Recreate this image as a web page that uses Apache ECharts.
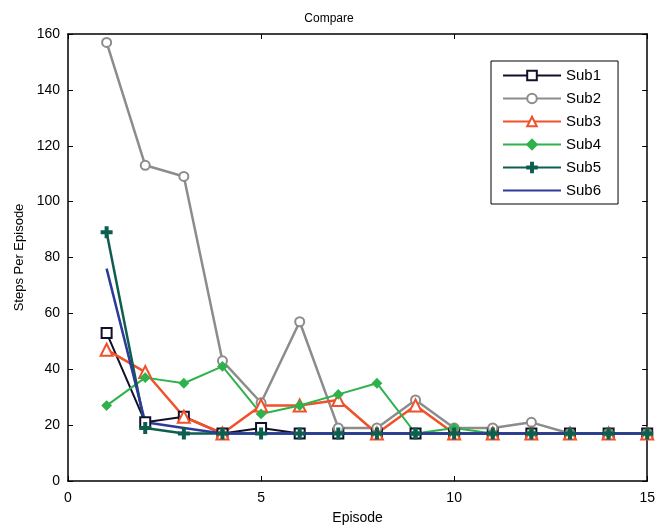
<!DOCTYPE html>
<html>
<head>
<meta charset="utf-8">
<script src="https://cdn.jsdelivr.net/npm/echarts@6/dist/echarts.min.js"></script>
<style>
html, body { margin: 0; padding: 0; background: #fff; }
#chart { width: 658px; height: 530px; }
</style>
</head>
<body>
<div id="chart"></div>
<script>
const episodes = [1, 2, 3, 4, 5, 6, 7, 8, 9, 10, 11, 12, 13, 14, 15]
const sub1 = [53, 21, 23, 17, 19, 17, 17, 17, 17, 17, 17, 17, 17, 17, 17]
const sub2 = [157, 113, 109, 43, 28, 57, 19, 19, 29, 19, 19, 21, 17, 17, 17]
const sub3 = [47, 39, 23, 17, 27, 27, 29, 17, 27, 17, 17, 17, 17, 17, 17]
const sub4 = [27, 37, 35, 41, 24, 27, 31, 35, 17, 19, 17, 17, 17, 17, 17]
const sub5 = [89, 19, 17, 17, 17, 17, 17, 17, 17, 17, 17, 17, 17, 17, 17]
const sub6 = [76, 21, 19, 17, 17, 17, 17, 17, 17, 17, 17, 17, 17, 17, 17]
const xTicks = [0, 5, 10, 15]
const yTicks = [0, 20, 40, 60, 80, 100, 120, 140, 160]

const pairs = (vals) => episodes.map((x, i) => [x, vals[i]])
// plus sign marker for Sub5
const plusPath = 'path://M4,0 L6,0 L6,4 L10,4 L10,6 L6,6 L6,10 L4,10 L4,6 L0,6 L0,4 L4,4 Z'

const chart = echarts.init(document.getElementById('chart'))

const mkLine = (name, vals, color, symbol, size, width, fill) => ({
	name: name,
	type: 'line',
	data: pairs(vals),
	symbol: symbol,
	symbolSize: size,
	showSymbol: size > 0,
	lineStyle: { color: color, width: width },
	itemStyle: { color: fill, borderColor: color, borderWidth: 2 },
	emphasis: { disabled: true },
	animation: false,
})

const axisCommon = {
	axisLine: { show: true, onZero: false, lineStyle: { color: '#000', width: 1.5 } },
	axisTick: { show: true, inside: true, length: 5, lineStyle: { color: '#000' } },
	splitLine: { show: false },
}

chart.setOption({
	backgroundColor: '#fff',
	title: {
		text: 'Compare',
		left: 'center',
		top: 8,
		textStyle: { fontFamily: 'Liberation Sans', fontSize: 12, fontWeight: 'normal', color: '#000' }
	},
	grid: { left: 68, right: 6, top: 34, bottom: 46 },
	legend: {
		orient: 'vertical',
		left: 491,
		top: 61,
		padding: [7, 17, 6, 11],
		itemWidth: 58,
		itemHeight: 12,
		itemGap: 8,
		borderColor: '#000',
		borderWidth: 1,
		backgroundColor: '#fff',
		textStyle: { fontFamily: 'Liberation Sans', fontSize: 15, color: '#000' },
		data: ['Sub1', 'Sub2', 'Sub3', 'Sub4', 'Sub5',
			{ name: 'Sub6', itemStyle: { opacity: 0 } }]
	},
	xAxis: [
		Object.assign({
			type: 'value', min: 0, max: 15, interval: 5, position: 'bottom',
			name: 'Episode', nameLocation: 'middle', nameGap: 30,
			nameTextStyle: { fontFamily: 'Liberation Sans', fontSize: 14, color: '#000' },
			axisLabel: { fontFamily: 'Liberation Sans', fontSize: 14, color: '#000', margin: 10,
				formatter: (v) => xTicks.includes(v) ? String(v) : '' },
		}, axisCommon),
		Object.assign({
			type: 'value', min: 0, max: 15, interval: 5, position: 'top',
			axisLabel: { show: false },
		}, axisCommon),
	],
	yAxis: [
		Object.assign({
			type: 'value', min: 0, max: 160, interval: 20, position: 'left',
			name: 'Steps Per Episode', nameLocation: 'middle', nameGap: 42,
			nameTextStyle: { fontFamily: 'Liberation Sans', fontSize: 13, color: '#000' },
			axisLabel: { fontFamily: 'Liberation Sans', fontSize: 14, color: '#000', margin: 8,
				formatter: (v) => yTicks.includes(v) ? String(v) : '' },
		}, axisCommon),
		Object.assign({
			type: 'value', min: 0, max: 160, interval: 20, position: 'right',
			axisLabel: { show: false },
		}, axisCommon),
	],
	series: [
		mkLine('Sub1', sub1, '#10102a', 'rect', 10, 2, '#fff'),
		mkLine('Sub2', sub2, '#8c8c8c', 'circle', 9, 2.5, '#fff'),
		mkLine('Sub3', sub3, '#f0502a', 'triangle', 12, 2.5, '#fff'),
		mkLine('Sub4', sub4, '#2fb24c', 'diamond', 8, 2, '#2fb24c'),
		mkLine('Sub5', sub5, '#0e5e50', plusPath, 10, 2.5, '#0e5e50'),
		mkLine('Sub6', sub6, '#2e3a9a', 'circle', 0, 2.5, '#2e3a9a'),
	]
})
</script>
</body>
</html>
